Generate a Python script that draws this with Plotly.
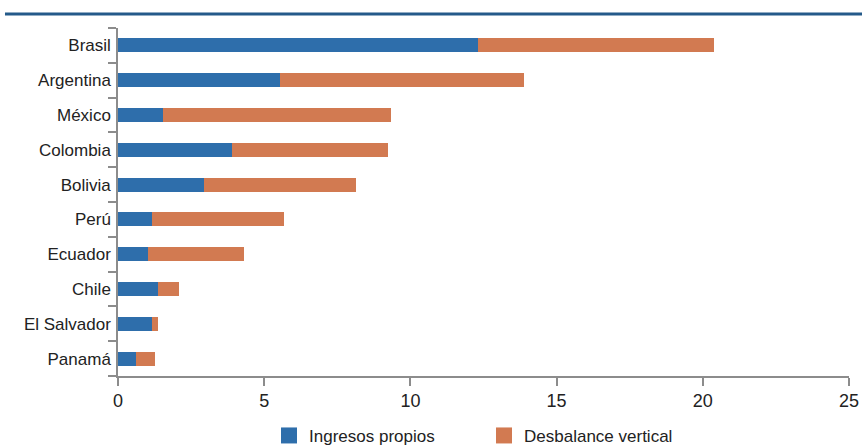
import plotly.graph_objects as go

paises = ["Brasil", "Argentina", "México", "Colombia", "Bolivia",
          "Perú", "Ecuador", "Chile", "El Salvador", "Panamá"]
ingresos_propios = [12.3, 5.54, 1.55, 3.89, 2.93, 1.17, 1.03, 1.37, 1.17, 0.62]
desbalance_vertical = [8.08, 8.36, 7.80, 5.36, 5.20, 4.52, 3.27, 0.73, 0.21, 0.66]
x_ticks = [0, 5, 10, 15, 20, 25]

FONT = "Liberation Sans Narrow, Arial Narrow, Liberation Sans, Arial, sans-serif"
AZUL = "#2E6EAB"
NARANJA = "#D27A51"

fig = go.Figure()
fig.add_trace(go.Bar(
    y=paises, x=ingresos_propios, orientation="h", name="Ingresos propios",
    marker=dict(color=AZUL, line=dict(width=0)), width=0.4, showlegend=False,
))
fig.add_trace(go.Bar(
    y=paises, x=desbalance_vertical, orientation="h", name="Desbalance vertical",
    marker=dict(color=NARANJA, line=dict(width=0)), width=0.4, showlegend=False,
))
# legend entries with larger square swatches
for nombre, color in [("Ingresos propios", AZUL), ("Desbalance vertical", NARANJA)]:
    fig.add_trace(go.Scatter(
        x=[None], y=[None], mode="markers", name=nombre,
        marker=dict(symbol="square", size=18, color=color), showlegend=True,
    ))

fig.update_layout(
    barmode="stack",
    width=862, height=448,
    margin=dict(l=118, r=13, t=28, b=72, autoexpand=False),
    paper_bgcolor="white", plot_bgcolor="white",
    font=dict(family=FONT, size=17, color="#222222"),
    showlegend=True,
    legend=dict(orientation="h", x=0.2066, xanchor="left",
                yref="container", y=0.027, yanchor="middle",
                font=dict(size=17), traceorder="normal",
                entrywidth=170, itemwidth=30),
    xaxis=dict(range=[0, 25], tickvals=x_ticks, showgrid=False, zeroline=False,
               automargin=False,
               showline=True, linecolor="#8C8C8C", linewidth=1.5,
               ticks="outside", ticklen=8, tickcolor="#8C8C8C", tickwidth=1.5,
               tickfont=dict(size=18)),
    yaxis=dict(categoryorder="array", categoryarray=paises[::-1],
               showgrid=False, zeroline=False, automargin=False,
               showline=True, linecolor="#8C8C8C", linewidth=1.5,
               ticks="outside", ticklen=8, tickcolor="#8C8C8C", tickwidth=1.5,
               tickson="boundaries", ticklabelstandoff=2),
    shapes=[dict(type="line", xref="paper", yref="paper",
                 x0=-0.1546, x1=1.0178, y0=1.0402, y1=1.0402,
                 line=dict(color="#245A8A", width=3))],
)

fig.write_html("out.html")
